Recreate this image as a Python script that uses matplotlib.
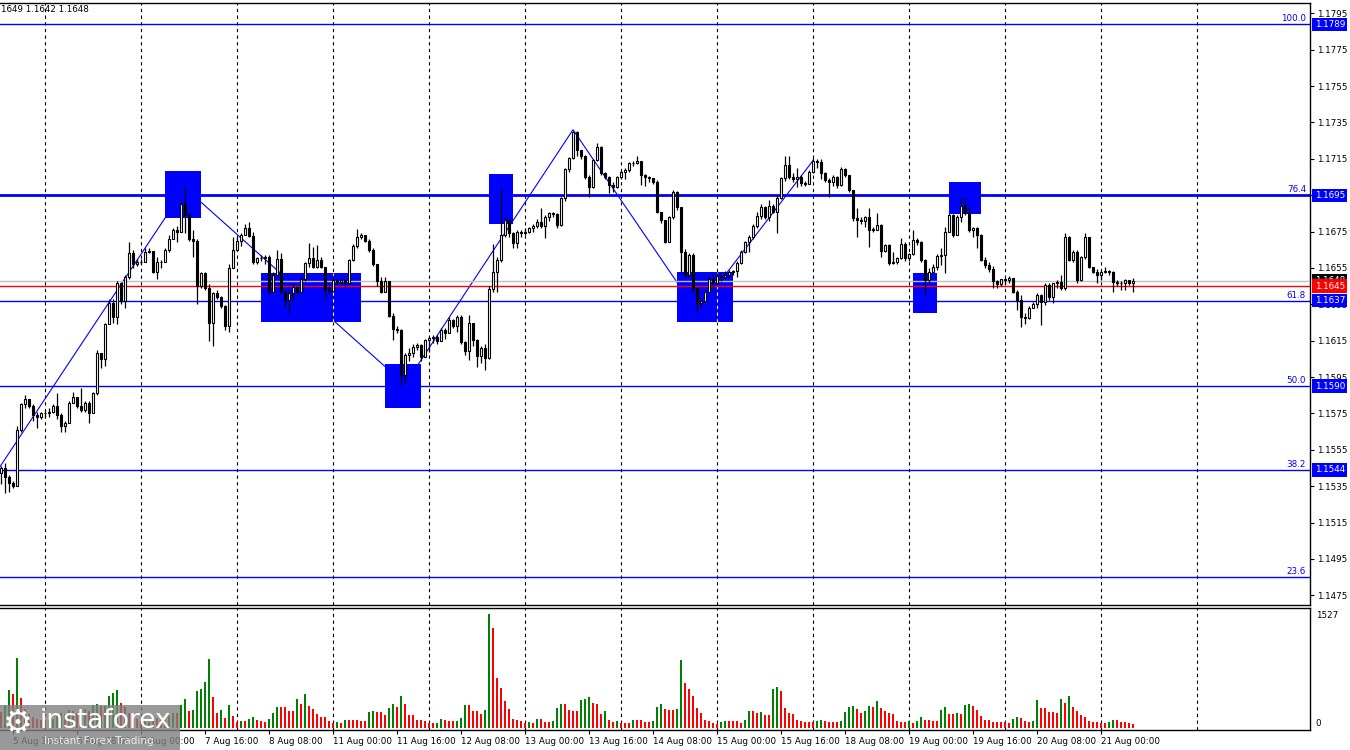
import numpy as np
import pandas as pd
import matplotlib as mpl
mpl.use('Agg')
import matplotlib.pyplot as plt
from matplotlib.patches import Rectangle
from matplotlib.transforms import blended_transform_factory

# EURUSD H1, prices kept in pips above BASE
BASE = 1.15
PIP = 0.0001

first_open = 42
closes = [
    45, 40, 37, 35, 66, 80, 83, 79, 74, 73,
    75, 75.5, 76, 79, 74, 68, 70, 81, 84, 79,
    77, 81, 75, 86, 108, 105, 124, 136, 128, 147,
    137, 150, 163, 157, 158, 158.5, 164, 164.5, 153, 158,
    158.5, 165, 171, 176, 175, 190, 184, 171, 170, 145,
    152, 144, 125, 141, 139, 134, 123, 155, 165, 170,
    173, 177, 172.6, 158, 160.7, 160.3, 161, 142, 151, 160,
    142, 137.4, 141, 144.8, 142, 148.8, 157.6, 160.3, 155.7, 159.4,
    155.7, 143.3, 142.6, 148.4, 147.5, 148.1, 147, 159.4, 167.1, 171.9,
    173, 170, 165, 157, 148, 142, 148, 128.6, 121.3, 121,
    96.2, 107.2, 108.5, 111.8, 112.7, 106.3, 115.4, 116.3, 117, 115,
    121, 119, 126.4, 123, 128, 114.5, 109.5, 124.6, 115.4, 106.6,
    110.8, 105.3, 143.3, 153, 159.4, 173.1, 181.4, 174, 168.9, 175,
    174, 175, 176.8, 178.1, 180, 178, 183.2, 185, 184.7, 178.6,
    193.3, 209.2, 215.3, 229.9, 219.8, 216.5, 205.2, 199.7, 214.3, 221.3,
    207, 205.2, 200.6, 199.7, 204.8, 207.9, 208.9, 212.9, 212.5, 214,
    206.1, 205.2, 204.3, 202.4, 185.9, 181.4, 169.4, 182.8, 196.9, 188.3,
    163.9, 151.1, 162.1, 143.8, 135.6, 137, 142, 148.7, 147, 150.5,
    150.2, 151, 152.9, 153.3, 157.9, 163.9, 169.5, 172.2, 178, 183.5,
    188.7, 183, 189, 186, 193.3, 204.3, 211.6, 205.2, 203.7, 205,
    201.5, 201.2, 208, 214, 213.5, 207, 203.4, 202.4, 205.2, 200.6,
    209.2, 206, 197.9, 182.3, 181.4, 181, 182.8, 175.9, 176, 178.6,
    164.5, 167.6, 157.9, 158, 160.3, 168.2, 160.3, 162.5, 170.4, 169.5,
    159.5, 148.4, 153, 155.7, 161.6, 162.1, 175, 184.1, 173.1, 183.2,
    189.1, 185, 175.9, 176.8, 173.1, 159.4, 156.6, 154.2, 148, 146.2,
    148.7, 148.4, 149.3, 142, 137.4, 128.2, 127.5, 133.2, 135.2, 140.1,
    136.5, 145.6, 139.2, 146.5, 147.5, 143.8, 172.2, 159.4, 164, 148.4,
    160.8, 172.2, 155.7, 153, 151.1, 153, 153.5, 153, 147.5, 146.5,
    146.9, 148.4, 146.5, 148,
]
highs = [
    46, 48, 41, 38, 68, 81, 85, 83, 80, 76,
    76, 77, 78, 80, 86, 75, 71, 82, 87, 84,
    89, 82, 82, 87, 110, 108, 125, 138, 138, 148,
    147, 151, 169, 165, 160, 160, 166, 166, 164.5, 161,
    159.5, 166, 173, 177, 178, 192, 200, 185, 176, 171,
    153, 153, 146, 142, 143, 139.5, 134.5, 157, 172, 172,
    174, 179, 180, 175, 161, 162, 162, 162, 153, 165,
    163, 143, 143, 146, 145, 150, 158, 168.6, 166.7, 167.7,
    161, 155.7, 145, 150, 149, 149, 148.5, 160, 168, 176.3,
    174, 173, 171, 166, 157, 150, 150, 148, 130, 123,
    121.5, 108, 111, 113, 114, 113, 116, 117, 118, 118,
    122, 122, 128, 127, 129, 129, 115, 129, 125, 116,
    112, 113, 145, 168.2, 161, 198.2, 183, 182, 175, 176,
    176, 177, 177.5, 179, 182, 187.8, 184, 186, 186, 185,
    194, 210, 216, 230.5, 230.5, 220, 217, 206, 215, 223.5,
    222, 208, 205.5, 202.4, 205.5, 209, 210, 213.5, 214, 216.5,
    214, 206.5, 205.5, 204.5, 203.4, 185.9, 181.5, 183.5, 198, 197.5,
    188.3, 165.2, 163, 163, 144, 138, 143, 150, 151, 152,
    152, 153.5, 154, 154, 159, 165, 170, 173, 179, 186,
    190, 189, 192.3, 190, 195, 205, 216.6, 216.6, 207, 209.8,
    206, 203, 209, 215.5, 215, 215, 208, 204.3, 206, 205.5,
    210.7, 210, 206, 198, 188, 183, 183.5, 187.8, 177.7, 185.4,
    179, 168, 167.9, 164, 161, 171.3, 169.5, 163, 175.9, 171.3,
    170, 160, 155, 157, 162.5, 165.8, 177.7, 185, 184.5, 184,
    193.3, 193.3, 188.7, 177.7, 177.3, 173.5, 160.8, 158.5, 156, 148.5,
    149, 149.3, 150.5, 149.3, 143, 140.1, 130, 134, 136.5, 141,
    140.5, 146.5, 146.5, 147, 148.5, 151.1, 174, 172.5, 165, 165,
    161.5, 174, 172.2, 155.7, 154.2, 154, 155.7, 154, 153.5, 148.4,
    148, 149, 148.4, 149.3,
]
lows = [
    36, 31, 32, 34, 35, 65, 78, 78, 71, 67,
    72, 73, 73, 75, 72, 65, 65, 70, 81, 78,
    76, 76, 70, 75, 85, 100, 101, 124, 125, 124,
    135, 133, 149, 155, 156, 157, 158, 163, 152, 149,
    155, 158, 164, 171, 169.5, 175, 174, 170, 161, 135,
    144, 143, 115, 112, 138, 133, 121, 120, 155, 165,
    167, 173, 172, 157, 157, 159, 157, 141, 142, 151,
    141, 133.8, 130, 137, 141, 142, 148, 155.7, 155, 155,
    155, 138.3, 141, 142.6, 146, 147, 145, 146, 159, 165.8,
    171, 169, 164, 156, 145, 141, 142, 128, 115.4, 119,
    90.7, 91.6, 104, 106, 110, 104, 106, 109, 114, 113,
    115, 116, 119, 122, 120, 113, 107, 104.4, 112, 100.7,
    103, 98.9, 105, 142, 142, 158, 172, 172, 165.8, 165.8,
    172, 173, 174, 175, 177, 176.8, 171.3, 181, 183, 177,
    178, 192, 208, 215, 216.5, 215, 204, 193.8, 199, 214,
    206, 204, 196.4, 197, 199, 204, 204, 207.9, 211, 212,
    200.6, 200, 202, 201, 185, 179.5, 168.5, 169, 182, 187,
    153, 150, 150, 142, 131, 133, 136, 142, 145, 146,
    148, 149, 150, 151, 150, 157, 163, 164, 171, 177,
    182, 182, 181, 185, 174, 193, 203, 204, 202, 199.7,
    200, 200, 201, 207, 210, 204, 202, 194.2, 200, 199,
    200, 205, 197, 181, 171.8, 179, 177.7, 166.7, 175, 176,
    160.8, 164, 156.6, 157, 157, 160, 159, 159, 162, 167.6,
    158, 140.1, 147, 152, 154, 156.6, 152, 175, 172.2, 173,
    180, 184, 175, 172, 165.8, 159, 155, 153, 143.8, 143.8,
    145, 146, 146.5, 141, 131.9, 122.7, 124, 127, 133, 132.8,
    123.6, 134.6, 137.4, 135.9, 144, 143, 143, 159, 158, 146.5,
    148, 160, 155, 152, 146.5, 148.4, 152, 151, 142, 145,
    142.9, 142.9, 145.5, 142,
]
volumes = [
    215, 300, 506, 452, 940, 394, 250, 180, 150, 120,
    110, 90, 100, 120, 160, 200, 180, 240, 230, 200,
    237, 250, 230, 300, 318, 290, 291, 425, 470, 506,
    327, 273, 200, 160, 120, 90, 100, 80, 140, 130,
    120, 110, 160, 200, 193, 304, 385, 224, 237, 497,
    515, 618, 922, 412, 193, 237, 134, 304, 157, 76,
    90, 90, 116, 139, 103, 90, 76, 121, 193, 273,
    273, 273, 224, 224, 385, 318, 448, 291, 246, 188,
    139, 139, 85, 63, 81, 63, 103, 103, 103, 103,
    90, 90, 210, 224, 210, 210, 170, 260, 318, 282,
    425, 322, 170, 170, 103, 103, 94, 58, 58, 63,
    116, 103, 90, 90, 94, 130, 304, 304, 224, 224,
    184, 237, 1527, 1339, 667, 533, 363, 251, 116, 103,
    90, 58, 76, 58, 116, 116, 81, 76, 94, 260,
    318, 318, 237, 224, 224, 372, 385, 407, 327, 318,
    184, 224, 103, 76, 90, 58, 58, 58, 103, 103,
    103, 76, 76, 90, 278, 318, 251, 237, 237, 251,
    909, 604, 519, 425, 264, 197, 103, 90, 63, 49,
    76, 90, 90, 90, 90, 58, 103, 224, 224, 197,
    210, 170, 170, 519, 546, 492, 264, 197, 184, 103,
    90, 76, 76, 76, 90, 103, 90, 76, 76, 76,
    90, 210, 278, 291, 251, 197, 224, 291, 278, 358,
    264, 224, 197, 184, 90, 76, 76, 90, 63, 90,
    143, 103, 103, 90, 90, 237, 278, 184, 184, 197,
    184, 304, 318, 291, 237, 157, 103, 103, 76, 76,
    76, 76, 63, 116, 143, 130, 90, 76, 90, 372,
    264, 264, 210, 210, 197, 385, 331, 425, 278, 224,
    170, 143, 90, 76, 76, 63, 63, 76, 103, 103,
    76, 76, 63, 49,
]

fib_pct = ['100.0', '76.4', '61.8', '50.0', '38.2', '23.6']
fib_price = [1.1789, 1.1695, 1.1637, 1.1590, 1.1544, 1.1485]
fib_boxed = [True, True, True, True, True, False]

# blue zones: first bar, last bar, low, high
zone_bar0 = [41, 65, 96, 122, 169, 228, 237]
zone_bar1 = [50, 90, 105, 128, 183, 234, 245]
zone_low = [1.16826, 1.16255, 1.15782, 1.16793, 1.16255, 1.16304, 1.16848]
zone_high = [1.17083, 1.16524, 1.16022, 1.17066, 1.16526, 1.16524, 1.17023]

zig_bar = [-5, 46, 101, 143, 174, 203]
zig_price = [1.1530, 1.1699, 1.1591, 1.1731, 1.1631, 1.1714]

bid_price = 1.1648
mark_price = 1.1645
vol_top = 1527

times = pd.date_range('2025-08-05 13:00', '2025-08-21 08:00', freq='h')
times = times[times.dayofweek < 5]
n = len(times)
x = np.arange(n)

c = BASE + np.array(closes) * PIP
h = BASE + np.array(highs) * PIP
l = BASE + np.array(lows) * PIP
o = np.r_[BASE + first_open * PIP, c[:-1]]

W, H = 1350, 750
def px_box(left, top, right, bottom):
    return [left / W, 1 - bottom / H, (right - left) / W, (bottom - top) / H]

fig = plt.figure(figsize=(13.5, 7.5), dpi=100)
ax = fig.add_axes(px_box(0, 3, 1310, 605))
vax = fig.add_axes(px_box(0, 608, 1310, 730), sharex=ax)

for a in (ax, vax):
    a.spines['left'].set_visible(False)
    for s in ('top', 'right', 'bottom'):
        a.spines[s].set_linewidth(1.0)
        a.spines[s].set_color('black')

ax.set_xlim(-0.25, 327.25)
ax.set_ylim(1.146970, 1.180066)
vax.set_ylim(-31, 1608)

# day separators
day_idx = list(np.where(times.hour == 0)[0])
day_idx.append(day_idx[-1] + 24)
for d in day_idx:
    ax.axvline(d, color='black', ls=(0, (3, 3)), lw=0.8, zorder=1)
    vax.axvline(d, color='black', ls=(0, (3, 3)), lw=0.8, zorder=1)

# fibo levels
for pct, p, boxed in zip(fib_pct, fib_price, fib_boxed):
    ax.axhline(p, color='#0000ff', lw=2 if pct == '76.4' else 1, zorder=2)
    ax.text(1306 / 1310, p + 0.6 * PIP, pct, transform=blended_transform_factory(ax.transAxes, ax.transData),
            ha='right', va='bottom', color='#0000ff', fontsize=6.3, zorder=3)

ax.plot(zig_bar, zig_price, color='#0000ff', lw=0.8, zorder=3)

for b0, b1, lo, hi in zip(zone_bar0, zone_bar1, zone_low, zone_high):
    ax.add_patch(Rectangle((b0, lo), b1 - b0, hi - lo, fc='#0000ff', ec='none', zorder=4))
    # separators show through the zone in inverted colour
    for d in day_idx:
        if b0 < d < b1:
            ax.vlines(d, lo, hi, colors='#ffff00', linestyles=(0, (3, 3)), lw=0.8, zorder=4.5)

ax.axhline(bid_price, color='#c0c0c0', lw=1, zorder=5)
ax.axhline(mark_price, color='#ff0000', lw=1, zorder=5)

# candles
ax.vlines(x, l, h, colors='black', lw=0.9, zorder=6)
body_bottom = np.minimum(o, c)
body_height = np.maximum(np.abs(c - o), 0.3 * PIP)
faces = np.where(c >= o, 'white', 'black')
ax.bar(x, body_height, width=0.5, bottom=body_bottom, color=faces,
       edgecolor='black', lw=0.8, zorder=7)

# volumes, green when higher than previous bar
vol = np.array(volumes)
vcol = ['#008000' if i > 0 and vol[i] > vol[i - 1] else '#ff0000' for i in range(n)]
vax.bar(x, vol, width=0.72, color=vcol, lw=0, zorder=3)

# price scale
ticks = np.arange(1.1475, 1.17951, 0.002)
ax.yaxis.tick_right()
ax.set_yticks(ticks)
ax.set_yticklabels([f'{t:.4f}' for t in ticks])
ax.tick_params(axis='y', direction='out', length=3, width=0.8, labelsize=6.3, pad=2)
ax.tick_params(axis='x', bottom=False, labelbottom=False)

trans = blended_transform_factory(ax.transAxes, ax.transData)
box_labels = [(p, '#0000ff') for p, b in zip(fib_price, fib_boxed) if b]
box_labels += [(bid_price, 'black'), (mark_price, '#ff0000')]
for p, col in box_labels:
    ax.text(1.0035, p, f'{p:.4f}', transform=trans, ha='left', va='center', fontsize=6.3,
            color='white', zorder=10, clip_on=False,
            bbox=dict(boxstyle='square,pad=0.25', fc=col, ec='none'))

vax.yaxis.tick_right()
vax.set_yticks([0, vol_top])
vax.set_yticklabels(['0', str(vol_top)])
vax.tick_params(axis='y', length=0, labelsize=6.3, pad=4)
vax.get_yticklabels()[0].set_va('bottom')

lab_idx = list(range(3, n, 16))
vax.set_xticks(lab_idx)
vax.set_xticklabels([f'{times[i].day} {times[i]:%b} {times[i]:%H:%M}' for i in lab_idx])
for t in vax.get_xticklabels():
    t.set_ha('left')
vax.tick_params(axis='x', direction='out', length=3, width=0.8, labelsize=6.3, pad=2)

fig.text(1 / W, 1 - 10 / H, '1649 1.1642 1.1648', fontsize=6.3, va='center', ha='left')

# broker watermark
fig.add_artist(Rectangle((0, 0), 180 / W, 45 / H, transform=fig.transFigure,
                         fc='#808080', alpha=0.8, ec='none', zorder=30))
fig.text(3 / W, 1 - 723 / H, '\u2699', fontsize=24, color='white', va='center', zorder=31)
fig.text(40 / W, 1 - 721 / H, 'instaforex', fontsize=19, color='white', va='center', zorder=31)
fig.text(44 / W, 1 - 741 / H, 'Instant Forex Trading', fontsize=7.5, color='#e8e8e8', va='center', zorder=31)

fig.savefig('out.png', dpi=100)
plt.close(fig)
